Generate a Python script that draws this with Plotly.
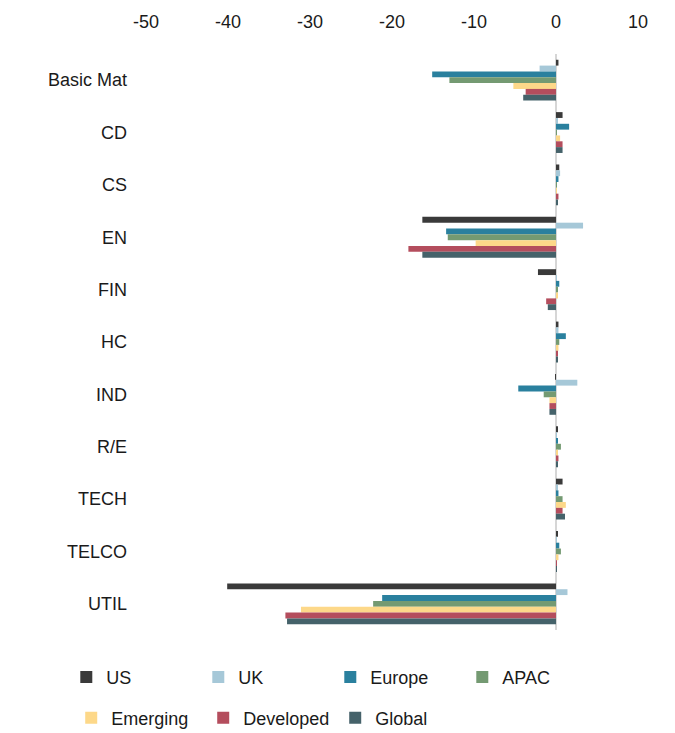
import plotly.graph_objects as go

# Sector categories (top to bottom)
sectors = ['Basic Mat', 'CD', 'CS', 'EN', 'FIN', 'HC', 'IND', 'R/E', 'TECH', 'TELCO', 'UTIL']

# Values per region
us = [0.3, 0.8, 0.4, -16.3, -2.2, 0.3, -0.1, 0.2, 0.8, 0.2, -40.1]
uk = [-2.0, 0.2, 0.5, 3.3, 0.1, 0.3, 2.6, 0.1, 0.2, 0.1, 1.4]
europe = [-15.1, 1.6, 0.3, -13.4, 0.4, 1.2, -4.6, 0.2, 0.3, 0.4, -21.2]
apac = [-13.0, 0.1, 0.1, -13.2, 0.2, 0.4, -1.5, 0.6, 0.8, 0.6, -22.3]
emerging = [-5.2, 0.5, 0.1, -9.8, 0.2, 0.3, -0.8, 0.2, 1.2, 0.3, -31.1]
developed = [-3.7, 0.8, 0.3, -18.0, -1.2, 0.2, -0.8, 0.3, 0.8, 0.1, -33.0]
global_ = [-4.0, 0.8, 0.2, -16.3, -1.0, 0.2, -0.8, 0.2, 1.1, 0.1, -32.8]

tick_vals = [-50, -40, -30, -20, -10, 0, 10]
tick_text = ['-50', '-40', '-30', '-20', '-10', '0', '10']

# name, values, colour, legend row
series = [
    ('US', us, '#3a3a3a', 'legend'),
    ('UK', uk, '#a6c8d8', 'legend'),
    ('Europe', europe, '#2a809e', 'legend'),
    ('APAC', apac, '#749a72', 'legend'),
    ('Emerging', emerging, '#fdd889', 'legend2'),
    ('Developed', developed, '#b44d5d', 'legend2'),
    ('Global', global_, '#45626a', 'legend2'),
]

fig = go.Figure()
for name, vals, color, leg in series:
    fig.add_trace(go.Bar(
        y=sectors, x=vals, name=name, orientation='h', legend=leg,
        marker=dict(color=color, line=dict(width=0)),
    ))

leg_common = dict(orientation='h', xanchor='left', yanchor='middle',
                  entrywidth=87, font=dict(size=18), bgcolor='rgba(0,0,0,0)')

fig.update_layout(
    width=675, height=733,
    barmode='group', bargap=0.22, bargroupgap=0,
    plot_bgcolor='white', paper_bgcolor='white',
    font=dict(family='Liberation Sans, Arial, sans-serif', size=18, color='#1a1a1a'),
    margin=dict(l=138, r=45, t=46, b=111, autoexpand=False),
    xaxis=dict(
        side='top', range=[-50, 10], tickvals=tick_vals, ticktext=tick_text,
        showgrid=False, zeroline=True, zerolinecolor='#d6d6d6', zerolinewidth=2,
        showline=False, ticks='', automargin=False, ticklabelstandoff=21,
    ),
    yaxis=dict(
        autorange='reversed', showgrid=False, showline=False, ticks='',
        ticklabelstandoff=18, automargin=False,
    ),
    legend=dict(x=-0.162, y=-0.082, **leg_common),
    legend2=dict(x=-0.152, y=-0.153, **leg_common),
)

fig.write_html('out.html')
